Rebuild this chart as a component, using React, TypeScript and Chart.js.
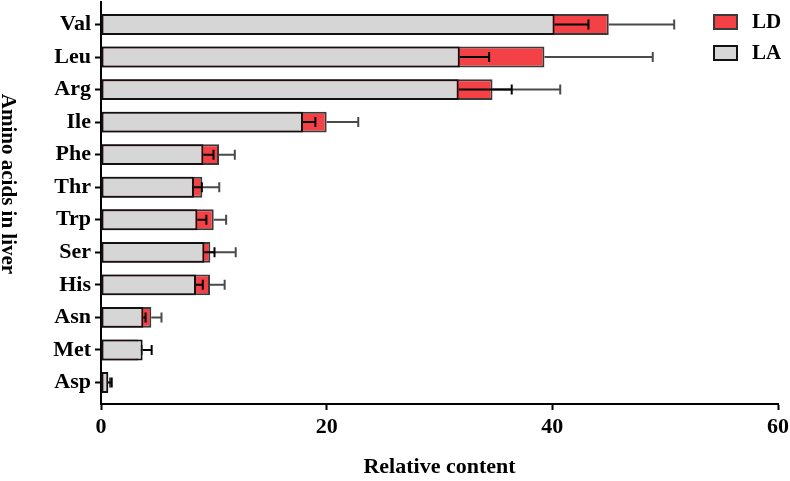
import React, { useEffect, useRef } from "react";
import { Chart, registerables } from "chart.js";

Chart.register(...registerables);

const categories = ["Val", "Leu", "Arg", "Ile", "Phe", "Thr", "Trp", "Ser", "His", "Asn", "Met", "Asp"];
const laValues = [40.2, 31.8, 31.7, 17.9, 9.07, 8.24, 8.54, 9.16, 8.42, 3.75, 3.69, 0.65];
const laErrors = [3.0, 2.6, 4.7, 1.1, 0.9, 0.7, 0.8, 0.9, 0.6, 0.2, 0.8, 0.3];
const ldValues = [45.0, 39.3, 34.7, 20.0, 10.46, 8.98, 9.99, 9.69, 9.66, 4.46, 3.3, 0.6];
const ldErrors = [5.8, 9.6, 6.0, 2.8, 1.4, 1.5, 1.1, 2.25, 1.3, 0.9, 0.3, 0.2];
const xTicks = [0, 20, 40, 60];

const FAMILY = '"Liberation Serif", "Times New Roman", serif';

const errorBarPlugin = {
  id: "errorBars",
  afterDatasetDraw(chart: any, args: any) {
    const ds: any = chart.data.datasets[args.index];
    if (!ds.errors) return;
    const xScale = chart.scales.x;
    const ctx = chart.ctx;
    ctx.save();
    ctx.strokeStyle = ds.errorColor;
    ctx.lineWidth = 2;
    args.meta.data.forEach((el: any, i: number) => {
      const v = ds.data[i].x;
      const e = ds.errors[i];
      const x0 = xScale.getPixelForValue(v);
      const x1 = xScale.getPixelForValue(v + e);
      const y = el.y;
      ctx.beginPath();
      ctx.moveTo(x0, y);
      ctx.lineTo(x1, y);
      ctx.moveTo(x1, y - 5);
      ctx.lineTo(x1, y + 5);
      ctx.stroke();
    });
    ctx.restore();
  },
};

const extrasPlugin = {
  id: "extras",
  afterDraw(chart: any) {
    const ctx = chart.ctx;
    const area = chart.chartArea;
    ctx.save();
    const order = ["LD", "LA"];
    order.forEach((lbl, k) => {
      const ds: any = chart.data.datasets.find((d: any) => d.label === lbl);
      const bx = area.right - 65;
      const by = area.top + 12 + k * 31;
      ctx.fillStyle = ds.backgroundColor;
      ctx.fillRect(bx, by, 25, 16);
      ctx.strokeStyle = ds.borderColor;
      ctx.lineWidth = 2;
      ctx.strokeRect(bx + 1, by + 1, 23, 14);
      ctx.fillStyle = "#000";
      ctx.font = `bold 21px ${FAMILY}`;
      ctx.textBaseline = "middle";
      ctx.textAlign = "left";
      ctx.fillText(lbl, bx + 39, by + 9);
    });
    ctx.translate(7, 184);
    ctx.rotate(Math.PI / 2);
    ctx.font = `bold 21px ${FAMILY}`;
    ctx.textAlign = "center";
    ctx.textBaseline = "middle";
    ctx.fillStyle = "#000";
    ctx.fillText("Amino acids in liver", 0, 0);
    ctx.restore();
  },
};

export default function App() {
  const ref = useRef<HTMLCanvasElement | null>(null);
  useEffect(() => {
    if (!ref.current) return;
    const tickFont = { family: FAMILY, size: 22, weight: "bold" as const };
    const chart = new Chart(ref.current, {
      type: "bar",
      data: {
        datasets: [
          {
            label: "LD",
            data: ldValues.map((v, i) => ({ x: v, y: i })),
            backgroundColor: "#f44146",
            borderColor: "#3a3a3a",
            borderWidth: 2,
            borderSkipped: false,
            grouped: false,
            order: 1,
            barPercentage: 0.64,
            categoryPercentage: 1,
            errors: ldErrors,
            errorColor: "#4a4a4a",
          } as any,
          {
            label: "LA",
            data: laValues.map((v, i) => ({ x: v, y: i })),
            backgroundColor: "#d6d6d6",
            borderColor: "#111111",
            borderWidth: 2,
            borderSkipped: false,
            grouped: false,
            order: 0,
            barPercentage: 0.64,
            categoryPercentage: 1,
            errors: laErrors,
            errorColor: "#000000",
          } as any,
        ],
      },
      options: {
        indexAxis: "y",
        responsive: false,
        animation: false,
        layout: { padding: { top: 2, right: 12, left: 0, bottom: 0 } },
        plugins: { legend: { display: false }, tooltip: { enabled: false } },
        scales: {
          x: {
            type: "linear",
            min: 0,
            max: 60,
            offset: false,
            afterBuildTicks: (s: any) => {
              s.ticks = xTicks.map((v) => ({ value: v }));
            },
            ticks: { font: tickFont, color: "#000", padding: 4, maxRotation: 0 },
            grid: { offset: false, drawOnChartArea: false, tickLength: 6, tickWidth: 2, tickColor: "#000" },
            border: { color: "#000", width: 2 },
            title: {
              display: true,
              text: "Relative content",
              color: "#000",
              font: { family: FAMILY, size: 22, weight: "bold" },
              padding: { top: 0, bottom: 0 },
            },
            afterFit: (s: any) => {
              s.height = 77;
              s.paddingLeft = 0;
              s.paddingRight = 0;
            },
          },
          y: {
            type: "linear",
            reverse: true,
            min: -0.69,
            max: 11.66,
            offset: false,
            afterBuildTicks: (s: any) => {
              s.ticks = categories.map((_, i) => ({ value: i }));
            },
            ticks: {
              autoSkip: false,
              font: tickFont,
              color: "#000",
              padding: 4,
              callback: (v: any) => categories[v] ?? "",
            },
            grid: { offset: false, drawOnChartArea: false, tickLength: 6, tickWidth: 2, tickColor: "#000" },
            border: { color: "#000", width: 2 },
            afterFit: (s: any) => {
              s.width = 101;
              s.paddingTop = 0;
              s.paddingBottom = 0;
            },
          },
        },
      } as any,
      plugins: [errorBarPlugin, extrasPlugin],
    });
    return () => chart.destroy();
  }, []);
  return (
    <div style={{ position: "fixed", left: 0, top: 0, width: 790, height: 481, background: "#fff" }}>
      <canvas ref={ref} width={790} height={481} style={{ display: "block" }} />
    </div>
  );
}
